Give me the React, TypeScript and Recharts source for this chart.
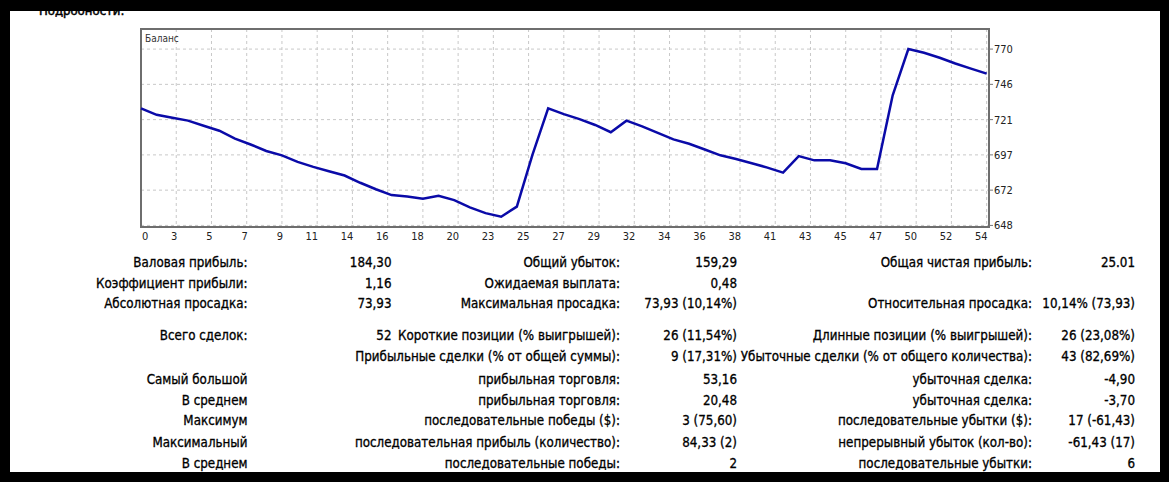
import { LineChart, Line, XAxis, YAxis, CartesianGrid, ReferenceArea } from 'recharts';

// balance after each trade
const balance = [
  729, 724.5, 722.5, 720.5, 717, 713.5, 708, 704, 699.5, 696.5,
  692, 688.5, 685.5, 682.5, 677.5, 673, 669, 668, 666.5, 668.5,
  665.5, 660.5, 656.5, 654, 661, 697, 729, 725, 721.5, 717.5,
  712.5, 720.5, 716.5, 712, 707.5, 704.5, 700.5, 696.5, 694, 691,
  688, 684.5, 696, 693, 693, 691, 687, 687, 738, 770,
  767.5, 764, 760, 756.5, 753,
];

const xTickLabels = [
  '0', '3', '5', '7', '9', '11', '14', '16', '18', '20', '23', '25', '27',
  '29', '32', '34', '36', '38', '41', '43', '45', '47', '50', '52', '54',
];

const yTickValues = [648, 672.4, 696.8, 721.2, 745.6, 770];

const statRows = [
  ['Валовая прибыль:', '184,30', 'Общий убыток:', '159,29', 'Общая чистая прибыль:', '25.01'],
  ['Коэффициент прибыли:', '1,16', 'Ожидаемая выплата:', '0,48', '', ''],
  ['Абсолютная просадка:', '73,93', 'Максимальная просадка:', '73,93 (10,14%)', 'Относительная просадка:', '10,14% (73,93)'],
  ['Всего сделок:', '52', 'Короткие позиции (% выигрышей):', '26 (11,54%)', 'Длинные позиции (% выигрышей):', '26 (23,08%)'],
  ['', '', 'Прибыльные сделки (% от общей суммы):', '9 (17,31%)', 'Убыточные сделки (% от общего количества):', '43 (82,69%)'],
  ['Самый большой', '', 'прибыльная торговля:', '53,16', 'убыточная сделка:', '-4,90'],
  ['В среднем', '', 'прибыльная торговля:', '20,48', 'убыточная сделка:', '-3,70'],
  ['Максимум', '', 'последовательные победы ($):', '3 (75,60)', 'последовательные убытки ($):', '17 (-61,43)'],
  ['Максимальный', '', 'последовательная прибыль (количество):', '84,33 (2)', 'непрерывный убыток (кол-во):', '-61,43 (17)'],
  ['В среднем', '', 'последовательные победы:', '2', 'последовательные убытки:', '6'],
];

const ROW_Y = [263.3, 283.5, 303.5, 336, 356.5, 379.5, 400.5, 421, 442.5, 464];
const COL_RIGHT = [247.5, 391.5, 620, 737, 1032, 1135];

const W = 1169;
const H = 482;
const X_MAX = 54.15;
const X_STEP = 54 / (xTickLabels.length - 1);
const Y_DOMAIN: [number, number] = [646.9, 783.9];

const chartData = balance.map((b, i) => ({ trade: i, balance: b }));
const xTicks = xTickLabels.map((_, k) => k * X_STEP);

const FONT = "'DejaVu Sans', sans-serif";

const XTick = ({ x, y, payload }: any) => {
  const idx = Math.round(payload.value / X_STEP);
  const first = idx === 0;
  return (
    <text
      x={x + 1}
      y={y}
      dy={12.5}
      textAnchor={first ? 'start' : 'end'}
      fontSize={11}
      fontFamily={FONT}
      style={{ fontStretch: 'condensed' }}
      fill="#222"
    >
      {xTickLabels[idx]}
    </text>
  );
};

const YTick = ({ x, y, payload }: any) => (
  <text
    x={x + 1}
    y={y}
    dy={4}
    textAnchor="start"
    fontSize={11}
    fontFamily={FONT}
    style={{ fontStretch: 'condensed' }}
    fill="#222"
  >
    {Math.round(payload.value)}
  </text>
);

export default function App() {
  return (
    <div style={{ position: 'fixed', left: 0, top: 0, width: W, height: H, background: '#000' }}>
      <div
        style={{
          position: 'absolute',
          left: 10,
          top: 11,
          width: 1150,
          height: 461,
          background: '#fff',
          overflow: 'hidden',
        }}
      >
        <div
          style={{
            position: 'absolute',
            left: 29,
            top: -8,
            fontFamily: FONT,
            fontStretch: 'condensed',
            fontSize: 13,
            lineHeight: '16px',
            color: '#000',
            WebkitTextStroke: '0.5px #000',
          }}
        >
          Подробности:
        </div>
      </div>

      <div style={{ position: 'absolute', left: 0, top: 0 }}>
        <LineChart
          width={W}
          height={250}
          data={chartData}
          margin={{ top: 29, right: 140, bottom: 3, left: 141 }}
        >
          <CartesianGrid stroke="#c8c8c8" strokeDasharray="3 3" />
          <XAxis
            type="number"
            dataKey="trade"
            domain={[0, X_MAX]}
            ticks={xTicks}
            interval={0}
            height={20}
            axisLine={false}
            tickLine={false}
            tickSize={0}
            tickMargin={0}
            tick={<XTick />}
          />
          <YAxis
            orientation="right"
            type="number"
            domain={Y_DOMAIN}
            allowDataOverflow
            ticks={yTickValues}
            interval={0}
            width={40}
            axisLine={false}
            tickLine={{ stroke: '#777' }}
            tickSize={4}
            tickMargin={0}
            tick={<YTick />}
          />
          <ReferenceArea
            x1={0}
            x2={X_MAX}
            y1={Y_DOMAIN[0]}
            y2={Y_DOMAIN[1]}
            fill="none"
            fillOpacity={0}
            stroke="#6e6e6e"
            strokeWidth={2}
            ifOverflow="visible"
          />
          <Line
            type="linear"
            dataKey="balance"
            stroke="#0a0aa8"
            strokeWidth={2.5}
            dot={false}
            isAnimationActive={false}
          />
        </LineChart>
        <div
          style={{
            position: 'absolute',
            left: 145,
            top: 33,
            fontFamily: FONT,
            fontStretch: 'condensed',
            fontSize: 10,
            lineHeight: '12px',
            color: '#333',
          }}
        >
          Баланс
        </div>
      </div>

      {statRows.map((row, r) =>
        row.map((cell, c) =>
          cell ? (
            <div
              key={`${r}-${c}`}
              style={{
                position: 'absolute',
                right: W - COL_RIGHT[c],
                top: ROW_Y[r] - 8,
                fontFamily: FONT,
                fontStretch: 'condensed',
                fontSize: 13.25,
                lineHeight: '16px',
                whiteSpace: 'nowrap',
                color: '#000',
                WebkitTextStroke: '0.3px #000',
              }}
            >
              {cell}
            </div>
          ) : null
        )
      )}
    </div>
  );
}
